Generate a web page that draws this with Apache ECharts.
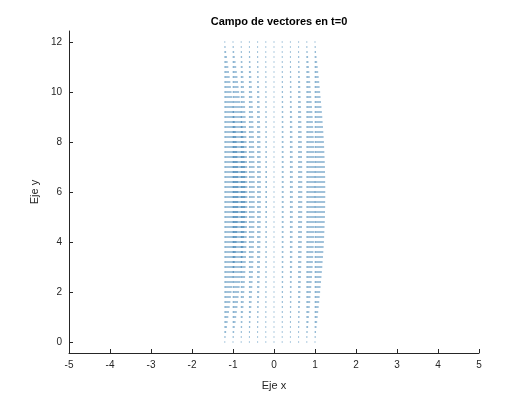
<!DOCTYPE html>
<html>
<head>
<meta charset="utf-8">
<script src="https://cdn.jsdelivr.net/npm/echarts@6/dist/echarts.min.js"></script>
<style>html,body{margin:0;padding:0;background:#fff;}#c{width:530px;height:398px;}</style>
</head>
<body>
<div id="c"></div>
<script>
// Quiver field (horizontal vectors, v = 0)
const xCols = [-1.2, -1.0, -0.8, -0.6, -0.4, -0.2, 0, 0.2, 0.4, 0.6, 0.8, 1.0];
// u at the middle row (y = 6), data units
const colU = [0.33, 0.30, 0.15, 0.13, 0.08, 0.03, 0, 0.04, 0.06, 0.09, 0.20, 0.25];
const yRows = [0,0.2,0.4,0.6,0.8,1,1.2,1.4,1.6,1.8,2,2.2,2.4,2.6,2.8,3,3.2,3.4,3.6,3.8,4,4.2,4.4,4.6,4.8,5,5.2,5.4,5.6,5.8,6,
  6.2,6.4,6.6,6.8,7,7.2,7.4,7.6,7.8,8,8.2,8.4,8.6,8.8,9,9.2,9.4,9.6,9.8,10,10.2,10.4,10.6,10.8,11,11.2,11.4,11.6,11.8,12];
// relative arrow length per row (read from the envelope of the field)
const rowScale = [0,0.05,0.1,0.16,0.21,0.26,0.31,0.36,0.41,0.45,0.5,0.54,0.59,0.63,0.67,0.71,0.74,0.78,0.81,0.84,0.87,0.89,0.91,0.93,0.95,0.97,0.98,0.99,0.99,1,1,
  1,0.99,0.99,0.98,0.97,0.95,0.93,0.91,0.89,0.87,0.84,0.81,0.78,0.74,0.71,0.67,0.63,0.59,0.54,0.5,0.45,0.41,0.36,0.31,0.26,0.21,0.16,0.1,0.05,0];
const xTicks = [-5,-4,-3,-2,-1,0,1,2,3,4,5];
const yTicks = [0,2,4,6,8,10,12];

const data = [];
for (let j = 0; j < yRows.length; j++) {
  for (let i = 0; i < xCols.length; i++) {
    data.push([xCols[i], yRows[j], colU[i] * rowScale[j]]);
  }
}

const chart = echarts.init(document.getElementById('c'), null, {renderer: 'canvas'});
const axisCol = '#262626';
const font = 'Liberation Sans, Arial, Helvetica, sans-serif';
chart.setOption({
  animation: false,
  backgroundColor: '#fff',
  title: {
    text: 'Campo de vectores en t=0',
    left: 274, top: 11, textAlign: 'center',
    textStyle: {fontFamily: font, fontSize: 11, fontWeight: 'bold', color: '#000'}
  },
  grid: {left: 69, right: 51, top: 31, bottom: 45, containLabel: false},
  xAxis: {
    type: 'value', min: -5, max: 5, interval: 1,
    name: 'Eje x', nameLocation: 'middle', nameGap: 27,
    nameTextStyle: {fontFamily: font, fontSize: 11, color: axisCol},
    axisLine: {show: true, onZero: false, lineStyle: {color: axisCol, width: 1}},
    axisTick: {show: true, inside: true, length: 4, lineStyle: {color: axisCol}},
    axisLabel: {fontFamily: font, fontSize: 10, color: axisCol, margin: 7},
    splitLine: {show: false}
  },
  yAxis: {
    type: 'value', min: -0.44, max: 12.44,
    name: 'Eje y', nameLocation: 'middle', nameGap: 24, nameRotate: 90,
    nameTextStyle: {fontFamily: font, fontSize: 11, color: axisCol},
    axisLine: {show: true, onZero: false, lineStyle: {color: axisCol, width: 1}},
    axisTick: {show: true, inside: true, length: 4, customValues: yTicks, lineStyle: {color: axisCol}},
    axisLabel: {fontFamily: font, fontSize: 10, color: axisCol, margin: 7, customValues: yTicks},
    splitLine: {show: false}
  },
  series: [{
    type: 'custom',
    data: data,
    clip: true,
    renderItem: function (params, api) {
      const x = api.value(0), y = api.value(1), u = api.value(2);
      const p0 = api.coord([x, y]);
      const p1 = api.coord([x + u, y]);
      return {
        type: 'group',
        children: [
          {type: 'line', shape: {x1: p0[0], y1: p0[1], x2: p1[0], y2: p1[1]},
           style: {stroke: '#1f6fa8', lineWidth: 1.2, opacity: 0.7}},
          {type: 'rect', shape: {x: p0[0] - 0.5, y: p0[1] - 1, width: 1, height: 2},
           style: {fill: '#1f6fa8', opacity: 0.35}}
        ]
      };
    }
  }]
});
</script>
</body>
</html>
